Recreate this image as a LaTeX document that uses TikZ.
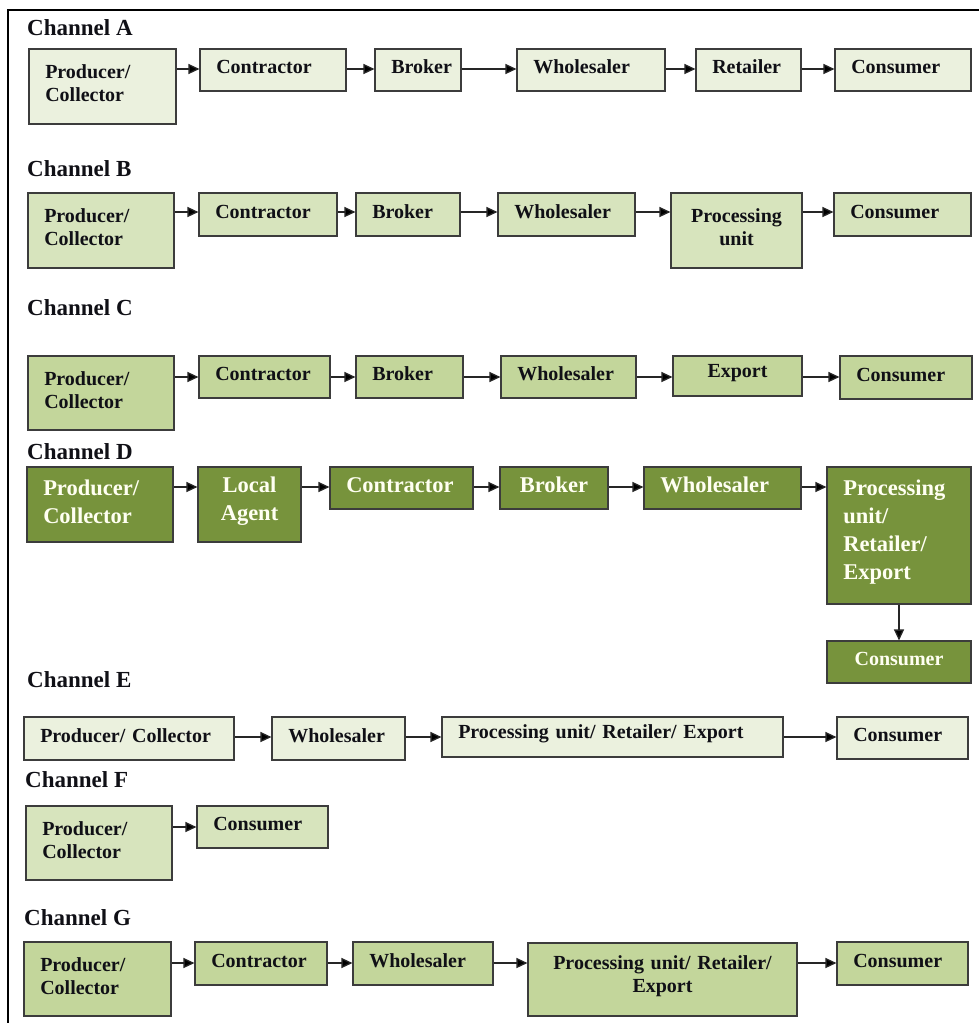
\documentclass[tikz,border=0pt]{standalone}
\usepackage{fontspec}
\setmainfont{Liberation Serif}
\usetikzlibrary{arrows.meta}

\definecolor{txt}{HTML}{101016}
\definecolor{bord}{HTML}{3C3C3C}
\definecolor{arrc}{HTML}{262626}
\definecolor{fillA}{HTML}{EBF1DE}
\definecolor{fillB}{HTML}{D7E4BD}
\definecolor{fillC}{HTML}{C3D69B}
\definecolor{fillD}{HTML}{77933C}
\definecolor{cream}{HTML}{FFFFF2}

% extra depth below a box's text, so the text sits a little above centre
\newcommand\liftText{\endgraf\kern6pt}

% \boxat{style}{name}{x1}{y1}{x2}{y2}{text}: a box spanning the given corners
\newcommand\boxat[7]{%
  \pgfmathsetlengthmacro\bxw{(#5)-(#3)}%
  \pgfmathsetlengthmacro\bxh{(#6)-(#4)}%
  \pgfmathsetlengthmacro\bxt{(#5)-(#3)-32.5}%
  \node[#1, minimum width=\bxw, minimum height=\bxh, text width=\bxt]
    (#2) at ({((#3)+(#5))/2},{((#4)+(#6))/2}) {#7};}

\begin{document}
\hyphenpenalty=10000
\exhyphenpenalty=10000
\begin{tikzpicture}[x=1pt, y=-1pt,
  box/.style={draw=bord, line width=1.1pt, inner xsep=16pt, inner ysep=2pt,
    font=\fontsize{20}{23}\selectfont\bfseries, text=txt, align=left,
    execute at end node=\liftText},
  boxA/.style={box, fill=fillA},
  boxB/.style={box, fill=fillB},
  boxC/.style={box, fill=fillC},
  boxD/.style={box, fill=fillD, text=cream,
    font=\fontsize{22.5}{28}\selectfont\bfseries},
  mid/.style={align=center},
  title/.style={anchor=base west, inner sep=0pt,
    font=\fontsize{23}{27}\selectfont\bfseries, text=txt},
  arr/.style={draw=arrc, line width=1.3pt,
    -{Triangle[length=11pt,width=10pt,fill=black]}},
  frame/.style={draw=black, line width=2pt}
]
\useasboundingbox (0,0) rectangle (979,1023);

% outer frame (top and left edges)
\draw[frame] (979,10) -- (8,10) -- (8,1023);

% ---------------- Channel A ----------------
\node[title] (tA) at (27,35) {Channel A};
\boxat{boxA}{a1}{29}{49}{176}{124}{Producer/\\Collector}
\boxat{boxA}{a2}{200}{49}{346}{91}{Contractor}
\boxat{boxA}{a3}{375}{49}{461}{91}{Broker}
\boxat{boxA}{a4}{517}{49}{665}{91}{Wholesaler}
\boxat{boxA}{a5}{696}{49}{801}{91}{Retailer}
\boxat{boxA}{a6}{835}{49}{971}{91}{Consumer}
\coordinate (rA) at (0,69);
\draw[arr] (a1.east |- rA) -- (a2.west |- rA);
\draw[arr] (a2.east |- rA) -- (a3.west |- rA);
\draw[arr] (a3.east |- rA) -- (a4.west |- rA);
\draw[arr] (a4.east |- rA) -- (a5.west |- rA);
\draw[arr] (a5.east |- rA) -- (a6.west |- rA);

% ---------------- Channel B ----------------
\node[title] (tB) at (27,176) {Channel B};
\boxat{boxB}{b1}{28}{193}{174}{268}{Producer/\\Collector}
\boxat{boxB}{b2}{199}{193}{337}{236}{Contractor}
\boxat{boxB}{b3}{356}{193}{460}{236}{Broker}
\boxat{boxB}{b4}{498}{193}{635}{236}{Wholesaler}
\boxat{boxB,mid}{b5}{671}{193}{802}{268}{Processing\\unit}
\boxat{boxB}{b6}{834}{193}{971}{236}{Consumer}
\coordinate (rB) at (0,212);
\draw[arr] (b1.east |- rB) -- (b2.west |- rB);
\draw[arr] (b2.east |- rB) -- (b3.west |- rB);
\draw[arr] (b3.east |- rB) -- (b4.west |- rB);
\draw[arr] (b4.east |- rB) -- (b5.west |- rB);
\draw[arr] (b5.east |- rB) -- (b6.west |- rB);

% ---------------- Channel C ----------------
\node[title] (tC) at (27,315) {Channel C};
\boxat{boxC}{c1}{28}{356}{174}{430}{Producer/\\Collector}
\boxat{boxC}{c2}{199}{356}{330}{398}{Contractor}
\boxat{boxC}{c3}{356}{356}{463}{398}{Broker}
\boxat{boxC}{c4}{501}{356}{636}{398}{Wholesaler}
\boxat{boxC,mid}{c5}{673}{356}{802}{396}{Export}
\boxat{boxC}{c6}{840}{356}{972}{399}{Consumer}
\coordinate (rC) at (0,377);
\draw[arr] (c1.east |- rC) -- (c2.west |- rC);
\draw[arr] (c2.east |- rC) -- (c3.west |- rC);
\draw[arr] (c3.east |- rC) -- (c4.west |- rC);
\draw[arr] (c4.east |- rC) -- (c5.west |- rC);
\draw[arr] (c5.east |- rC) -- (c6.west |- rC);

% ---------------- Channel D ----------------
\node[title] (tD) at (27,459) {Channel D};
\boxat{boxD}{d1}{27}{467}{173}{542}{Producer/\\Collector}
\boxat{boxD,mid}{d2}{198}{467}{301}{542}{Local\\Agent}
\boxat{boxD}{d3}{330}{467}{473}{509}{Contractor}
\boxat{boxD,mid}{d4}{500}{467}{608}{509}{Broker}
\boxat{boxD}{d5}{644}{467}{801}{509}{Wholesaler}
\boxat{boxD}{d6}{827}{467}{971}{604}{Processing\\unit/\\Retailer/\\Export}
\boxat{boxD,mid,font=\fontsize{20}{23}\selectfont\bfseries}{d7}{827}{641}{971}{683}{Consumer}
\coordinate (rD) at (0,487);
\draw[arr] (d1.east |- rD) -- (d2.west |- rD);
\draw[arr] (d2.east |- rD) -- (d3.west |- rD);
\draw[arr] (d3.east |- rD) -- (d4.west |- rD);
\draw[arr] (d4.east |- rD) -- (d5.west |- rD);
\draw[arr] (d5.east |- rD) -- (d6.west |- rD);
\draw[arr] (d6.south) -- (d7.north);

% ---------------- Channel E ----------------
\node[title] (tE) at (27,687) {Channel E};
\boxat{boxA}{e1}{24}{717}{234}{760}{Producer/ Collector}
\boxat{boxA}{e2}{272}{717}{405}{760}{Wholesaler}
\boxat{boxA}{e3}{442}{717}{783}{757}{Processing unit/ Retailer/ Export}
\boxat{boxA}{e4}{837}{717}{968}{759}{Consumer}
\coordinate (rE) at (0,737);
\draw[arr] (e1.east |- rE) -- (e2.west |- rE);
\draw[arr] (e2.east |- rE) -- (e3.west |- rE);
\draw[arr] (e3.east |- rE) -- (e4.west |- rE);

% ---------------- Channel F ----------------
\node[title] (tF) at (25,787) {Channel F};
\boxat{boxB}{f1}{26}{806}{172}{880}{Producer/\\Collector}
\boxat{boxB}{f2}{197}{806}{328}{848}{Consumer}
\coordinate (rF) at (0,827);
\draw[arr] (f1.east |- rF) -- (f2.west |- rF);

% ---------------- Channel G ----------------
\node[title] (tG) at (24,925) {Channel G};
\boxat{boxC}{g1}{24}{942}{171}{1016}{Producer/\\Collector}
\boxat{boxC}{g2}{195}{942}{327}{985}{Contractor}
\boxat{boxC}{g3}{353}{942}{493}{985}{Wholesaler}
\boxat{boxC,mid}{g4}{528}{943}{797}{1016}{Processing unit/ Retailer/\\Export}
\boxat{boxC}{g5}{837}{942}{968}{985}{Consumer}
\coordinate (rG) at (0,963);
\draw[arr] (g1.east |- rG) -- (g2.west |- rG);
\draw[arr] (g2.east |- rG) -- (g3.west |- rG);
\draw[arr] (g3.east |- rG) -- (g4.west |- rG);
\draw[arr] (g4.east |- rG) -- (g5.west |- rG);
\end{tikzpicture}
\end{document}
